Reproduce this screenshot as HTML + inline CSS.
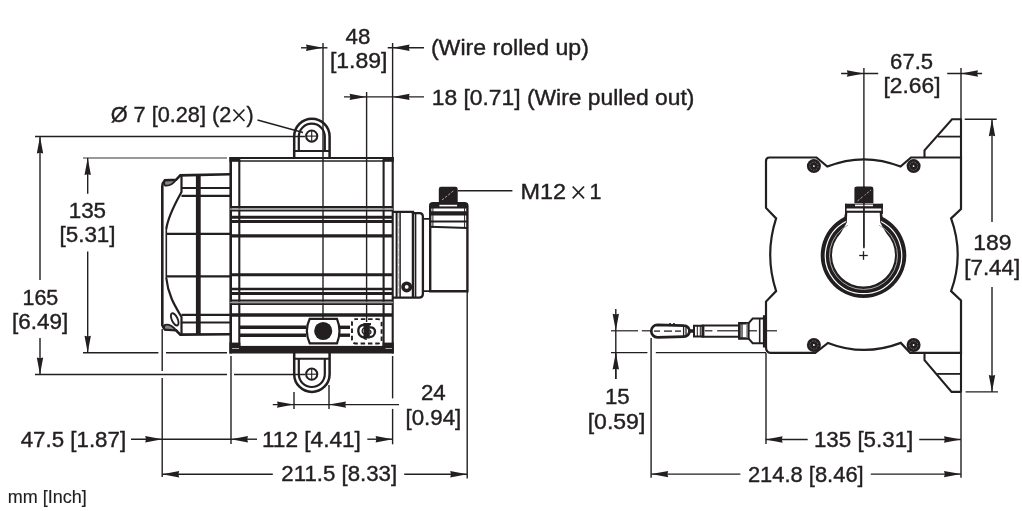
<!DOCTYPE html>
<html><head><meta charset="utf-8"><style>
html,body{margin:0;padding:0;background:#fff;width:1022px;height:511px;overflow:hidden}
svg{display:block}
text{font-family:"Liberation Sans",sans-serif;fill:#231f20;stroke:#231f20;stroke-width:0.4px}
svg{will-change:transform}
</style></head><body>
<svg width="1022" height="511" viewBox="0 0 1022 511">
<line x1="35" y1="136.5" x2="305" y2="136.5" stroke="#231f20" stroke-width="1.4"/>
<line x1="35" y1="374.5" x2="227" y2="374.5" stroke="#231f20" stroke-width="1.4"/>
<line x1="234" y1="374.5" x2="305" y2="374.5" stroke="#231f20" stroke-width="1.4"/>
<line x1="40" y1="136.5" x2="40" y2="280" stroke="#231f20" stroke-width="1.4"/>
<line x1="40" y1="338" x2="40" y2="374.5" stroke="#231f20" stroke-width="1.4"/>
<polygon points="40.0,136.5 36.8,153.5 40.0,152.7 43.2,153.5" fill="#231f20"/>
<polygon points="40.0,374.5 36.8,357.5 40.0,358.3 43.2,357.5" fill="#231f20"/>
<text x="22.50" y="304.8" font-size="21.5" textLength="35.80" lengthAdjust="spacingAndGlyphs">165</text>
<text x="12.10" y="329.3" font-size="21.5" textLength="56.20" lengthAdjust="spacingAndGlyphs">[6.49]</text>
<line x1="83" y1="158" x2="227" y2="158" stroke="#777" stroke-width="1.3"/>
<line x1="83" y1="352.7" x2="158.4" y2="352.7" stroke="#231f20" stroke-width="1.4"/>
<line x1="166" y1="352.7" x2="227" y2="352.7" stroke="#231f20" stroke-width="1.4"/>
<line x1="87.7" y1="158" x2="87.7" y2="193.7" stroke="#231f20" stroke-width="1.4"/>
<line x1="87.7" y1="251.4" x2="87.7" y2="352.7" stroke="#231f20" stroke-width="1.4"/>
<polygon points="87.7,158.0 84.5,175.0 87.7,174.2 90.9,175.0" fill="#231f20"/>
<polygon points="87.7,352.7 84.5,335.7 87.7,336.5 90.9,335.7" fill="#231f20"/>
<text x="68.70" y="218.2" font-size="21.5" textLength="37.40" lengthAdjust="spacingAndGlyphs">135</text>
<text x="59.50" y="242.2" font-size="21.5" textLength="56.00" lengthAdjust="spacingAndGlyphs">[5.31]</text>
<line x1="162.2" y1="329" x2="162.2" y2="371" stroke="#231f20" stroke-width="1.4"/>
<line x1="162.2" y1="378" x2="162.2" y2="477" stroke="#231f20" stroke-width="1.4"/>
<line x1="231" y1="356" x2="231" y2="444" stroke="#231f20" stroke-width="1.4"/>
<line x1="131" y1="439.2" x2="231" y2="439.2" stroke="#231f20" stroke-width="1.4"/>
<polygon points="162.2,439.2 145.2,436.0 146.0,439.2 145.2,442.4" fill="#231f20"/>
<polygon points="231.0,439.2 248.0,436.0 247.2,439.2 248.0,442.4" fill="#231f20"/>
<line x1="231" y1="439.2" x2="257" y2="439.2" stroke="#231f20" stroke-width="1.4"/>
<text x="20.70" y="446.9" font-size="21.5" textLength="105.40" lengthAdjust="spacingAndGlyphs">47.5 [1.87]</text>
<text x="261.90" y="446.6" font-size="21.5" textLength="99.00" lengthAdjust="spacingAndGlyphs">112 [4.41]</text>
<line x1="367.3" y1="439.2" x2="392.6" y2="439.2" stroke="#231f20" stroke-width="1.4"/>
<polygon points="392.6,439.2 375.6,436.0 376.4,439.2 375.6,442.4" fill="#231f20"/>
<line x1="162.2" y1="474.2" x2="272.8" y2="474.2" stroke="#231f20" stroke-width="1.4"/>
<polygon points="162.2,474.2 179.2,471.0 178.4,474.2 179.2,477.4" fill="#231f20"/>
<text x="281.30" y="481.2" font-size="21.5" textLength="115.80" lengthAdjust="spacingAndGlyphs">211.5 [8.33]</text>
<line x1="404.2" y1="474.2" x2="467.2" y2="474.2" stroke="#231f20" stroke-width="1.4"/>
<polygon points="467.2,474.2 450.2,471.0 451.0,474.2 450.2,477.4" fill="#231f20"/>
<line x1="467.2" y1="291" x2="467.2" y2="478.4" stroke="#231f20" stroke-width="1.4"/>
<line x1="272.8" y1="404.6" x2="399" y2="404.6" stroke="#231f20" stroke-width="1.4"/>
<polygon points="294.0,404.6 277.0,401.4 277.8,404.6 277.0,407.8" fill="#231f20"/>
<polygon points="329.0,404.6 346.0,401.4 345.2,404.6 346.0,407.8" fill="#231f20"/>
<line x1="294" y1="392" x2="294" y2="409" stroke="#231f20" stroke-width="1.4"/>
<line x1="329" y1="385" x2="329" y2="409" stroke="#231f20" stroke-width="1.4"/>
<text x="420.90" y="400.3" font-size="21.5" textLength="24.80" lengthAdjust="spacingAndGlyphs">24</text>
<text x="405.50" y="424.5" font-size="21.5" textLength="55.80" lengthAdjust="spacingAndGlyphs">[0.94]</text>
<line x1="392.6" y1="356" x2="392.6" y2="398.4" stroke="#231f20" stroke-width="1.4"/>
<line x1="392.6" y1="408.9" x2="392.6" y2="444.3" stroke="#231f20" stroke-width="1.4"/>
<line x1="323" y1="43" x2="323" y2="322" stroke="#231f20" stroke-width="1.4"/>
<line x1="301" y1="47.8" x2="327.5" y2="47.8" stroke="#231f20" stroke-width="1.4"/>
<polygon points="323.0,47.8 306.0,44.6 306.8,47.8 306.0,51.0" fill="#231f20"/>
<line x1="392.6" y1="43" x2="392.6" y2="158" stroke="#231f20" stroke-width="1.4"/>
<line x1="387.7" y1="47.8" x2="424" y2="47.8" stroke="#231f20" stroke-width="1.4"/>
<polygon points="392.6,47.8 409.6,44.6 408.8,47.8 409.6,51.0" fill="#231f20"/>
<text x="345.50" y="43.8" font-size="21.5" textLength="24.80" lengthAdjust="spacingAndGlyphs">48</text>
<text x="329.90" y="68.4" font-size="21.5" textLength="57.60" lengthAdjust="spacingAndGlyphs">[1.89]</text>
<text x="430.90" y="55.2" font-size="21.5" textLength="158.00" lengthAdjust="spacingAndGlyphs">(Wire rolled up)</text>
<line x1="344" y1="96.9" x2="424" y2="96.9" stroke="#231f20" stroke-width="1.4"/>
<polygon points="366.6,96.9 349.6,93.7 350.4,96.9 349.6,100.1" fill="#231f20"/>
<polygon points="392.6,96.9 409.6,93.7 408.8,96.9 409.6,100.1" fill="#231f20"/>
<line x1="366.6" y1="92" x2="366.6" y2="322" stroke="#231f20" stroke-width="1.4"/>
<text x="431.70" y="105.1" font-size="21.5" textLength="262.80" lengthAdjust="spacingAndGlyphs">18 [0.71] (Wire pulled out)</text>
<line x1="257.5" y1="120" x2="303" y2="132.5" stroke="#231f20" stroke-width="1.4"/>
<text x="110.70" y="121.8" font-size="21.5" textLength="120.60" lengthAdjust="spacingAndGlyphs">Ø 7 [0.28] (2</text>
<line x1="233.4" y1="109.5" x2="244.4" y2="121" stroke="#231f20" stroke-width="1.7"/>
<line x1="233.4" y1="121" x2="244.4" y2="109.5" stroke="#231f20" stroke-width="1.7"/>
<text x="246.45" y="121.8" font-size="21.5">)</text>
<line x1="457.6" y1="190.7" x2="512.4" y2="190.7" stroke="#231f20" stroke-width="1.4"/>
<text x="520.50" y="198.6" font-size="21.5" textLength="45.60" lengthAdjust="spacingAndGlyphs">M12</text>
<line x1="572.7" y1="186.5" x2="584" y2="198.3" stroke="#231f20" stroke-width="1.7"/>
<line x1="572.7" y1="198.3" x2="584" y2="186.5" stroke="#231f20" stroke-width="1.7"/>
<text x="589.50" y="198.6" font-size="21.5">1</text>
<text x="7.70" y="502.6" font-size="18.3" textLength="79.00" lengthAdjust="spacingAndGlyphs" style="stroke-width:0.15px">mm [Inch]</text>
<line x1="230" y1="158" x2="393.5" y2="158" stroke="#231f20" stroke-width="2"/>
<line x1="239" y1="161" x2="384" y2="161" stroke="#231f20" stroke-width="1.6"/>
<rect x="229.4" y="157" width="10.9" height="4.8" fill="#231f20"/>
<rect x="382.6" y="157" width="11.2" height="4.8" fill="#231f20"/>
<line x1="230.7" y1="157" x2="230.7" y2="353.5" stroke="#231f20" stroke-width="2.6"/>
<line x1="239.3" y1="160" x2="239.3" y2="346" stroke="#231f20" stroke-width="2.1"/>
<line x1="383.6" y1="160" x2="383.6" y2="346" stroke="#231f20" stroke-width="2.1"/>
<line x1="392.7" y1="157" x2="392.7" y2="353.5" stroke="#231f20" stroke-width="2.1"/>
<rect x="230" y="208.3" width="163" height="1.5" fill="#bbb"/>
<rect x="230" y="301.5" width="163" height="2" fill="#999"/>
<line x1="230" y1="207.1" x2="393" y2="207.1" stroke="#231f20" stroke-width="2.4"/>
<line x1="230" y1="210.6" x2="393" y2="210.6" stroke="#231f20" stroke-width="1.8"/>
<line x1="230" y1="217.2" x2="393" y2="217.2" stroke="#231f20" stroke-width="2.9"/>
<line x1="230" y1="221.5" x2="393" y2="221.5" stroke="#231f20" stroke-width="3"/>
<line x1="230" y1="235.8" x2="393" y2="235.8" stroke="#231f20" stroke-width="3.2"/>
<line x1="230" y1="274.7" x2="393" y2="274.7" stroke="#231f20" stroke-width="3"/>
<line x1="230" y1="289" x2="393" y2="289" stroke="#231f20" stroke-width="2.7"/>
<line x1="230" y1="293.4" x2="393" y2="293.4" stroke="#231f20" stroke-width="3"/>
<line x1="230" y1="300.5" x2="393" y2="300.5" stroke="#231f20" stroke-width="2.1"/>
<line x1="230" y1="304.1" x2="393" y2="304.1" stroke="#231f20" stroke-width="1.6"/>
<line x1="230" y1="315" x2="393" y2="315" stroke="#231f20" stroke-width="3.6"/>
<line x1="240" y1="327.3" x2="306" y2="327.3" stroke="#231f20" stroke-width="3.4"/>
<line x1="240" y1="335.2" x2="306" y2="335.2" stroke="#231f20" stroke-width="3.4"/>
<line x1="340" y1="327.3" x2="350" y2="327.3" stroke="#231f20" stroke-width="3.4"/>
<line x1="340" y1="335.2" x2="350" y2="335.2" stroke="#231f20" stroke-width="3.4"/>
<rect x="229.4" y="345.9" width="164.4" height="7.6" fill="#231f20"/>
<rect x="229.4" y="342.6" width="11" height="3.5" fill="#231f20"/>
<rect x="382.6" y="342.6" width="11.2" height="3.5" fill="#231f20"/>
<line x1="232" y1="348.5" x2="239" y2="348.5" stroke="#bbb" stroke-width="0.9"/>
<line x1="385.5" y1="348.5" x2="392" y2="348.5" stroke="#bbb" stroke-width="0.9"/>
<path d="M309.7,318.8 L337,318.8 Q342,331 337,343.3 L309.7,343.3 Q304,331 309.7,318.8 Z" fill="#fff" stroke="#231f20" stroke-width="2.2" />
<circle cx="323.2" cy="331" r="9.05" fill="#231f20" stroke="none" stroke-width="0"/>
<rect x="352" y="319.1" width="29.6" height="24.4" rx="3.5" fill="none" stroke="#231f20" stroke-width="1.9" stroke-dasharray="4.5,2.8" stroke-dashoffset="2"/>
<path d="M363.5,323 L371,323 L371,325.3 L369.8,325.3 L369.8,338.5 L366.5,338.5 L367,340 L364.5,339.5 L363.5,338.5 Z" fill="#231f20" stroke="none" stroke-width="0" />
<path d="M364,324.8 C360,325 358,328 358.3,331 C358.5,334 360.5,337 364,337.5" fill="none" stroke="#231f20" stroke-width="2.4" />
<path d="M369.5,327.5 C373,327 375.2,329 375,332 C374.8,335 372.5,337 369.5,337" fill="none" stroke="#231f20" stroke-width="2.4" />
<path d="M364,328 C361.5,329 361.5,333 364,334 M369.5,330 C371.5,331 371.5,333 369.5,334" fill="none" stroke="#231f20" stroke-width="1.3" />
<path d="M294.2,157.5 L294.2,136.4 A17.7,17.7 0 0 1 329.6,136.4 L329.6,157.5" fill="none" stroke="#231f20" stroke-width="2.5" />
<path d="M298.8,151 L298.8,136.6 A13,13 0 0 1 324.8,136.6 L324.8,151" fill="none" stroke="#231f20" stroke-width="2.2" />
<line x1="294.2" y1="151" x2="329.6" y2="151" stroke="#231f20" stroke-width="2"/>
<circle cx="311.7" cy="136.1" r="5.6" fill="none" stroke="#231f20" stroke-width="2"/>
<line x1="306.1" y1="136.1" x2="317.3" y2="136.1" stroke="#231f20" stroke-width="1.1"/>
<line x1="311.7" y1="130.5" x2="311.7" y2="141.7" stroke="#231f20" stroke-width="1.1"/>
<path d="M294.2,353 L294.2,374.2 A17.7,17.7 0 0 0 329.6,374.2 L329.6,353" fill="none" stroke="#231f20" stroke-width="2.5" />
<path d="M298.8,358.8 L298.8,374 A13,13 0 0 0 324.8,374 L324.8,358.8" fill="none" stroke="#231f20" stroke-width="2.2" />
<line x1="294.2" y1="358.8" x2="329.6" y2="358.8" stroke="#231f20" stroke-width="2"/>
<circle cx="311.7" cy="374.2" r="5.6" fill="none" stroke="#231f20" stroke-width="2"/>
<line x1="306.1" y1="374.2" x2="317.3" y2="374.2" stroke="#231f20" stroke-width="1.1"/>
<line x1="311.7" y1="368.6" x2="311.7" y2="379.8" stroke="#231f20" stroke-width="1.1"/>
<path d="M230,174.3 L180.3,175.4 L176,179.8 L165,180.2 Q162.3,183 162.3,186.5 L162.3,325 Q163,327 165,329.5 L176,330.3 L180.3,334.6 L230,334.2" fill="none" stroke="#231f20" stroke-width="2.6" />
<path d="M165,180.5 L176,180 Q171,186.5 165,185.5 Q163,183 165,180.5 Z" fill="#888" stroke="#231f20" stroke-width="1.8" />
<path d="M165,329.5 L176,330.3 Q171,323.8 165,324.8 Q163,327 165,329.5 Z" fill="#888" stroke="#231f20" stroke-width="1.8" />
<line x1="166.3" y1="229" x2="166.3" y2="278" stroke="#231f20" stroke-width="1.6"/>
<path d="M181.5,176 L181.5,192 C176,202 168,216 166.3,229" fill="none" stroke="#231f20" stroke-width="2.2" />
<path d="M166.3,278 C168,295 175,306 181.5,317 L181.5,334" fill="none" stroke="#231f20" stroke-width="2.2" />
<line x1="198.3" y1="175" x2="198.3" y2="335" stroke="#231f20" stroke-width="4.8"/>
<line x1="181.5" y1="188" x2="230" y2="188" stroke="#231f20" stroke-width="2.2"/>
<line x1="181.5" y1="195.8" x2="230" y2="195.8" stroke="#231f20" stroke-width="2.2"/>
<line x1="166.3" y1="233.9" x2="230" y2="233.9" stroke="#231f20" stroke-width="2.2"/>
<line x1="166.3" y1="276.3" x2="230" y2="276.3" stroke="#231f20" stroke-width="2.2"/>
<line x1="181.5" y1="314.9" x2="230" y2="314.9" stroke="#231f20" stroke-width="2.2"/>
<line x1="181.5" y1="322.5" x2="230" y2="322.5" stroke="#231f20" stroke-width="2.2"/>
<ellipse cx="174.7" cy="319.4" rx="2.9" ry="6.6" transform="rotate(-25 174.7 319.4)" fill="none" stroke="#231f20" stroke-width="1.9"/>
<path d="M392.5,211.9 L413,211.9 L413,213.2 L419.5,213.2 Q422.9,213.2 422.9,217 L422.9,293.5 Q422.9,297.6 419,297.6 L392.5,297.6" fill="none" stroke="#231f20" stroke-width="2.3" />
<line x1="396.6" y1="212" x2="396.6" y2="297.5" stroke="#231f20" stroke-width="2"/>
<line x1="400.1" y1="212" x2="400.1" y2="297.5" stroke="#231f20" stroke-width="1.5"/>
<line x1="398.3" y1="213" x2="398.3" y2="297" stroke="#999" stroke-width="0.6" stroke-dasharray="6,1.5"/>
<line x1="413" y1="212" x2="413" y2="297.5" stroke="#231f20" stroke-width="2.5"/>
<line x1="415.6" y1="213" x2="415.6" y2="297.5" stroke="#231f20" stroke-width="1.5"/>
<circle cx="406.7" cy="286.9" r="3.7" fill="none" stroke="#231f20" stroke-width="3.6"/>
<path d="M422.9,218.8 L429.5,218.8 M422.9,291.2 L429.5,291.2" fill="none" stroke="#231f20" stroke-width="1.8" />
<path d="M430.2,291.2 L430.2,206 Q430.2,203.1 433,203.1 L464.5,203.1 Q467.4,203.1 467.4,206 L467.4,291.2 Z" fill="none" stroke="#231f20" stroke-width="2.4" />
<rect x="429.7" y="203.1" width="37.7" height="5.4" fill="#231f20"/>
<line x1="432.9" y1="208" x2="432.9" y2="228" stroke="#231f20" stroke-width="1"/>
<line x1="464.6" y1="208" x2="464.6" y2="228" stroke="#231f20" stroke-width="1"/>
<line x1="430" y1="213.3" x2="467.4" y2="213.3" stroke="#231f20" stroke-width="4.3"/>
<line x1="430" y1="221.5" x2="467.4" y2="221.5" stroke="#231f20" stroke-width="2.1"/>
<line x1="430" y1="226.8" x2="467.4" y2="228.0" stroke="#231f20" stroke-width="2.1"/>
<path d="M438.8,203.5 L438.8,189 Q438.8,186.7 441,186.7 L455.5,186.7 Q457.7,186.7 457.7,189 L457.7,203.5 Z" fill="#231f20" stroke="none" stroke-width="0" />
<line x1="442" y1="200" x2="454.5" y2="190" stroke="#aaa" stroke-width="1" stroke-dasharray="2.5,1.5"/>
<rect x="439.4" y="204.8" width="17.7" height="1.6" fill="#fff"/>
<line x1="841.1" y1="73.5" x2="878.2" y2="73.5" stroke="#231f20" stroke-width="1.4"/>
<polygon points="863.9,73.5 846.9,70.3 847.7,73.5 846.9,76.7" fill="#231f20"/>
<line x1="947.2" y1="73.5" x2="982.1" y2="73.5" stroke="#231f20" stroke-width="1.4"/>
<polygon points="961.0,73.5 978.0,70.3 977.2,73.5 978.0,76.7" fill="#231f20"/>
<line x1="863.9" y1="68" x2="863.9" y2="247.5" stroke="#231f20" stroke-width="1.4"/>
<line x1="961" y1="68" x2="961" y2="158" stroke="#231f20" stroke-width="1.4"/>
<text x="890.10" y="69" font-size="21.5" textLength="43.00" lengthAdjust="spacingAndGlyphs">67.5</text>
<text x="883.50" y="93.2" font-size="21.5" textLength="57.00" lengthAdjust="spacingAndGlyphs">[2.66]</text>
<path d="M766,161 Q766,157.5 769.5,157.5 L816.5,157.5 L827.3,166.6 Q864,152 900.5,166.6 L911,157.5 L961,157.5 L961,209 L951.1,218.4 Q964.3,254.8 951.1,291.1 L961,300.5 L961,352.8 L910.2,352.8 L900.8,342.9 Q864,357 828,342.9 L815.2,352.8 L770.6,352.8 Q766,352.8 766,347 L766,301.6 L776.1,291.1 Q764.3,254.8 776.1,218.4 L766,207.9 Z" fill="none" stroke="#231f20" stroke-width="2.2" />
<path d="M961,119.2 L952,119.2 L924.5,150.3 L924.5,157.5" fill="none" stroke="#231f20" stroke-width="2.1" />
<line x1="938" y1="136.6" x2="961" y2="136.6" stroke="#231f20" stroke-width="1.8"/>
<path d="M924.5,352.8 L924.5,360.1 L951.6,391.9 L961,391.9" fill="none" stroke="#231f20" stroke-width="2.1" />
<line x1="937.1" y1="373.9" x2="961" y2="373.9" stroke="#231f20" stroke-width="1.8"/>
<line x1="961" y1="392" x2="961" y2="477.8" stroke="#231f20" stroke-width="1.4"/>
<line x1="961" y1="352" x2="961" y2="392.5" stroke="#231f20" stroke-width="2.1"/>
<line x1="961" y1="118.5" x2="961" y2="158" stroke="#231f20" stroke-width="2.1"/>
<circle cx="813.9" cy="166.1" r="7" fill="#231f20" stroke="none" stroke-width="0"/>
<circle cx="813.9" cy="166.1" r="4.1" fill="none" stroke="#888" stroke-width="0.7" stroke-dasharray="1.6,1.2"/>
<circle cx="813.9" cy="166.1" r="0.9" fill="#fff" stroke="none" stroke-width="0"/>
<circle cx="913.6" cy="166.1" r="7" fill="#231f20" stroke="none" stroke-width="0"/>
<circle cx="913.6" cy="166.1" r="4.1" fill="none" stroke="#888" stroke-width="0.7" stroke-dasharray="1.6,1.2"/>
<circle cx="913.6" cy="166.1" r="0.9" fill="#fff" stroke="none" stroke-width="0"/>
<circle cx="813.9" cy="345" r="7" fill="#231f20" stroke="none" stroke-width="0"/>
<circle cx="813.9" cy="345" r="4.1" fill="none" stroke="#888" stroke-width="0.7" stroke-dasharray="1.6,1.2"/>
<circle cx="813.9" cy="345" r="0.9" fill="#fff" stroke="none" stroke-width="0"/>
<circle cx="913.6" cy="345" r="7" fill="#231f20" stroke="none" stroke-width="0"/>
<circle cx="913.6" cy="345" r="4.1" fill="none" stroke="#888" stroke-width="0.7" stroke-dasharray="1.6,1.2"/>
<circle cx="913.6" cy="345" r="0.9" fill="#fff" stroke="none" stroke-width="0"/>
<line x1="964.7" y1="119.2" x2="996.7" y2="119.2" stroke="#231f20" stroke-width="1.4"/>
<line x1="965.6" y1="391.9" x2="998" y2="391.9" stroke="#231f20" stroke-width="1.4"/>
<line x1="992" y1="119.2" x2="992" y2="222" stroke="#231f20" stroke-width="1.4"/>
<line x1="992" y1="287" x2="992" y2="391.9" stroke="#231f20" stroke-width="1.4"/>
<polygon points="992.0,119.2 988.8,136.2 992.0,135.4 995.2,136.2" fill="#231f20"/>
<polygon points="992.0,391.9 988.8,374.9 992.0,375.7 995.2,374.9" fill="#231f20"/>
<text x="973.30" y="250" font-size="21.5" textLength="38.20" lengthAdjust="spacingAndGlyphs">189</text>
<text x="964.30" y="274.6" font-size="21.5" textLength="55.80" lengthAdjust="spacingAndGlyphs">[7.44]</text>
<path d="M845.2,212 L844.3,217 A42.8,42.8 0 1 0 882.7,217 L881.8,212 Z M847.3,212 L846.8,222.5 Q844,228 840.5,233.5 A31.5,31.5 0 1 0 886.5,233.5 Q883,228 880.2,222.5 L879.7,212 Z" fill="#231f20" stroke="none" stroke-width="0" fill-rule="evenodd"/>
<path d="M846,221.5 A38.2,38.2 0 1 0 881,221.5" fill="none" stroke="#fff" stroke-width="1.2" />
<path d="M848,225.2 A34,34 0 1 0 879,225.2" fill="none" stroke="#aaa" stroke-width="1" />
<rect x="845.1" y="203.7" width="37.7" height="4.8" fill="#231f20"/>
<rect x="845.1" y="210.7" width="37.7" height="2.1" fill="#231f20"/>
<line x1="845.8" y1="203.7" x2="845.8" y2="214" stroke="#231f20" stroke-width="1.6"/>
<line x1="882.1" y1="203.7" x2="882.1" y2="214" stroke="#231f20" stroke-width="1.6"/>
<rect x="855" y="204.6" width="18" height="1.6" fill="#fff"/>
<path d="M854.4,203.2 L854.4,189 Q854.4,186.6 857,186.6 L871,186.6 Q873.4,186.6 873.4,189 L873.4,203.2 Z" fill="#231f20" stroke="none" stroke-width="0" />
<line x1="857.5" y1="201" x2="871" y2="190" stroke="#aaa" stroke-width="1" stroke-dasharray="2.5,1.5"/>
<line x1="863.9" y1="186" x2="863.9" y2="248.3" stroke="#231f20" stroke-width="1.3"/>
<line x1="859.2" y1="255.5" x2="867.8" y2="255.5" stroke="#231f20" stroke-width="1.3"/>
<line x1="863.5" y1="251.2" x2="863.5" y2="259.8" stroke="#231f20" stroke-width="1.3"/>
<line x1="611" y1="330.8" x2="638" y2="330.8" stroke="#231f20" stroke-width="1.2"/>
<line x1="641.8" y1="330.8" x2="651" y2="330.8" stroke="#231f20" stroke-width="1.2"/>
<line x1="765" y1="330.8" x2="777" y2="330.8" stroke="#231f20" stroke-width="1.2"/>
<path d="M657.5,324.8 L684,325.6 A5.3,5.3 0 0 1 684,336.6 L657.5,337.3 A6.2,6.2 0 0 1 657.5,324.8 Z" fill="none" stroke="#231f20" stroke-width="2.7" />
<line x1="654" y1="331.1" x2="660" y2="331.1" stroke="#231f20" stroke-width="1.3"/>
<line x1="664" y1="331.1" x2="672" y2="331.1" stroke="#231f20" stroke-width="1.3"/>
<line x1="675" y1="331.1" x2="681" y2="331.1" stroke="#231f20" stroke-width="1.3"/>
<line x1="683.6" y1="326.5" x2="683.6" y2="336" stroke="#231f20" stroke-width="1.3"/>
<line x1="686" y1="326.5" x2="686" y2="336" stroke="#231f20" stroke-width="1.3"/>
<path d="M669,325 L670,323 L671,325 M673,325 L674,323 L675,325" fill="none" stroke="#231f20" stroke-width="1" />
<line x1="688.8" y1="331" x2="693.5" y2="331" stroke="#231f20" stroke-width="3.5"/>
<path d="M694,325.8 L702.7,325.8 L702.7,336.4 L694,336.4 Z" fill="none" stroke="#231f20" stroke-width="2" />
<line x1="697.3" y1="326" x2="697.3" y2="336" stroke="#231f20" stroke-width="1"/>
<line x1="700.3" y1="326" x2="700.3" y2="336" stroke="#231f20" stroke-width="1"/>
<path d="M702.7,325.5 L739.3,325.5 L739.3,336.8 L702.7,336.8 Z" fill="none" stroke="#231f20" stroke-width="2.1" />
<line x1="703.4" y1="325.5" x2="703.4" y2="336.8" stroke="#231f20" stroke-width="2"/>
<line x1="704.8" y1="330.8" x2="712.4" y2="330.8" stroke="#231f20" stroke-width="1.2"/>
<line x1="717.2" y1="330.8" x2="739.3" y2="330.8" stroke="#231f20" stroke-width="1.2"/>
<path d="M739.3,323.3 L748.4,323.3 L748.4,338.4 L739.3,338.4 Z" fill="none" stroke="#231f20" stroke-width="2.5" />
<line x1="742" y1="323.5" x2="742" y2="338" stroke="#231f20" stroke-width="1.2"/>
<line x1="747" y1="323.5" x2="747" y2="338" stroke="#888" stroke-width="1.5"/>
<path d="M748.4,323.3 L752.7,318.5 L763,318.5 M748.4,338.4 L752.7,343.2 L763,343.2" fill="none" stroke="#231f20" stroke-width="2" />
<line x1="759.7" y1="318.5" x2="759.7" y2="343.2" stroke="#231f20" stroke-width="1.6"/>
<line x1="749" y1="330.8" x2="757" y2="330.8" stroke="#231f20" stroke-width="1.2"/>
<line x1="764.4" y1="315.2" x2="764.4" y2="347.5" stroke="#231f20" stroke-width="3"/>
<line x1="611" y1="352.6" x2="647.4" y2="352.6" stroke="#231f20" stroke-width="1.4"/>
<line x1="655.8" y1="352.6" x2="766" y2="352.6" stroke="#231f20" stroke-width="1.4"/>
<line x1="615.8" y1="309" x2="615.8" y2="379" stroke="#231f20" stroke-width="1.4"/>
<polygon points="615.8,330.7 612.6,313.7 615.8,314.5 619.0,313.7" fill="#231f20"/>
<line x1="615.8" y1="352.6" x2="615.8" y2="379" stroke="#231f20" stroke-width="1.4"/>
<polygon points="615.8,352.6 612.6,369.6 615.8,368.8 619.0,369.6" fill="#231f20"/>
<text x="604.90" y="404.2" font-size="21.5" textLength="24.80" lengthAdjust="spacingAndGlyphs">15</text>
<text x="587.70" y="428.6" font-size="21.5" textLength="57.60" lengthAdjust="spacingAndGlyphs">[0.59]</text>
<line x1="651.1" y1="338" x2="651.1" y2="477.8" stroke="#231f20" stroke-width="1.4"/>
<line x1="766" y1="353" x2="766" y2="444.1" stroke="#231f20" stroke-width="1.4"/>
<line x1="765.6" y1="439.5" x2="807.7" y2="439.5" stroke="#231f20" stroke-width="1.4"/>
<polygon points="765.6,439.5 782.6,436.3 781.8,439.5 782.6,442.7" fill="#231f20"/>
<line x1="919.2" y1="439.5" x2="961" y2="439.5" stroke="#231f20" stroke-width="1.4"/>
<polygon points="961.0,439.5 944.0,436.3 944.8,439.5 944.0,442.7" fill="#231f20"/>
<text x="813.90" y="447" font-size="21.5" textLength="99.40" lengthAdjust="spacingAndGlyphs">135 [5.31]</text>
<line x1="651.2" y1="474.1" x2="740.4" y2="474.1" stroke="#231f20" stroke-width="1.4"/>
<polygon points="651.2,474.1 668.2,470.9 667.4,474.1 668.2,477.3" fill="#231f20"/>
<line x1="870.8" y1="474.1" x2="961" y2="474.1" stroke="#231f20" stroke-width="1.4"/>
<polygon points="961.0,474.1 944.0,470.9 944.8,474.1 944.0,477.3" fill="#231f20"/>
<text x="747.90" y="482" font-size="21.5" textLength="115.80" lengthAdjust="spacingAndGlyphs">214.8 [8.46]</text>
</svg></body></html>
